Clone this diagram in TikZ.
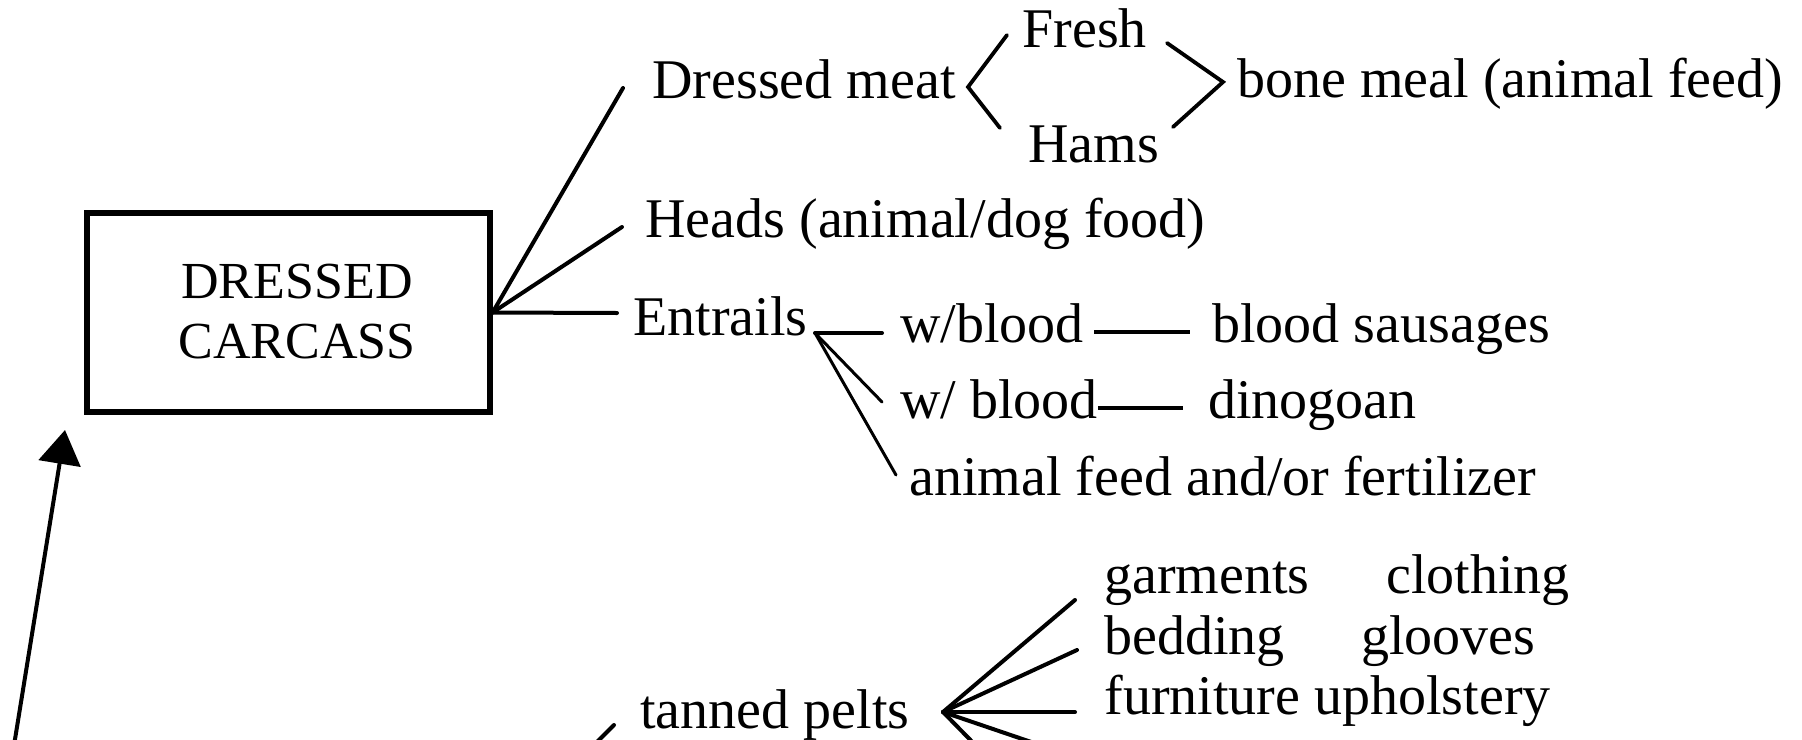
\documentclass[tikz,border=0pt]{standalone}
\usepackage{fontspec}
\setmainfont{Liberation Serif}
\usetikzlibrary{calc,arrows.meta}
\begin{document}
\begin{tikzpicture}[x=0.5pt,y=-0.5pt,
  txt/.style={font=\fontsize{28}{34}\selectfont, inner sep=0pt, anchor=base west},
  boxtxt/.style={font=\fontsize{26}{30}\selectfont, inner sep=0pt, align=center},
  box/.style={draw, line width=2.6pt, minimum width=201.5pt, minimum height=99.5pt, inner sep=0pt},
  fan/.style={line width=2pt, line cap=round},
  thinln/.style={line width=1.5pt, line cap=round},
  brk/.style={line width=1.9pt, line cap=round, line join=miter},
  dashln/.style={line width=1.7pt},
  arr/.style={line width=2pt, -{Triangle[length=17pt,width=21pt]}}]
\useasboundingbox (0,0) rectangle (1802,739);
\clip (0,0) rectangle (1802,739);

% nodes
\node[box] (carc) at (288.5,312.5) {};
\node[boxtxt] (ctext) at (297,311.5) {DRESSED\\CARCASS};
\node[txt] (dm) at (652,98) {Dressed meat};
\node[txt] (fr) at (1022,47) {Fresh};
\node[txt] (hm) at (1028,162) {Hams};
\node[txt] (bm) at (1237,97) {bone meal (animal feed)};
\node[txt] (hd) at (645,237) {Heads (animal/dog food)};
\node[txt] (en) at (633,335) {Entrails};
\node[txt] (wa) at (900,342) {w/blood};
\node[txt] (bs) at (1212,342) {blood sausages};
\node[txt] (wb) at (900,418) {w/ blood};
\node[txt] (dn) at (1208,418) {dinogoan};
\node[txt] (af) at (909,495) {animal feed and/or fertilizer};
\node[txt] (tp) at (640,728) {tanned pelts};
\node[txt] (ga) at (1104,593) {garments};
\node[txt] (cl) at (1386,593) {clothing};
\node[txt] (be) at (1104,654) {bedding};
\node[txt] (gl) at (1361,654) {glooves};
\node[txt] (fu) at (1104,714) {furniture upholstery};

% junctions and free ends
\coordinate (je) at (815,333);
\coordinate (jp) at (943,712);
\coordinate (lt) at (968,87);
\coordinate (gt) at (1223,82);
\coordinate (a0) at (11.5,761);
\coordinate (atip) at (65,430);
\coordinate (t0) at (578,761);
\coordinate (p1) at (1090,762);
\coordinate (p2) at (990,760);

% carcass fan
\draw[fan] (carc.east) -- ($(dm.base west)+(-29,-10)$);
\draw[fan] (carc.east) -- ($(hd.base west)+(-23,-10)$);
\draw[fan] (carc.east) -- ($(en.base west)+(-16,-22)$);

% brackets
\draw[brk] ($(fr.base west)+(-15,-12)$) -- (lt) -- ($(hm.base west)+(-28,-34)$);
\draw[brk] ($(bm.base west)+(-70,-54)$) -- (gt) -- ($(bm.base west)+(-64,30)$);

% entrails
\draw[fan] (je) -- ($(wa.base west)+(-18,-9)$);
\draw[thinln] (je) -- ($(wb.base west)+(-18,-16)$);
\draw[thinln] (je) -- ($(af.base west)+(-13,-20)$);
\draw[dashln] ($(wa.base east)+(10,-10)$) -- ($(bs.base west)+(-22,-10)$);
\draw[dashln] ($(wb.base east)+(0,-10)$) -- ($(dn.base west)+(-25,-10)$);

% pelts
\draw[fan] (jp) -- ($(ga.base west)+(-29,7)$);
\draw[fan] (jp) -- ($(be.base west)+(-27,-4)$);
\draw[fan] (jp) -- ($(fu.base west)+(-29,-2)$);
\draw[fan] (jp) -- (p1);
\draw[fan] (jp) -- (p2);
\draw[fan] (t0) -- ($(tp.base west)+(-26,-3)$);

% arrow to carcass
\draw[arr] (a0) -- (atip);
\end{tikzpicture}
\end{document}
